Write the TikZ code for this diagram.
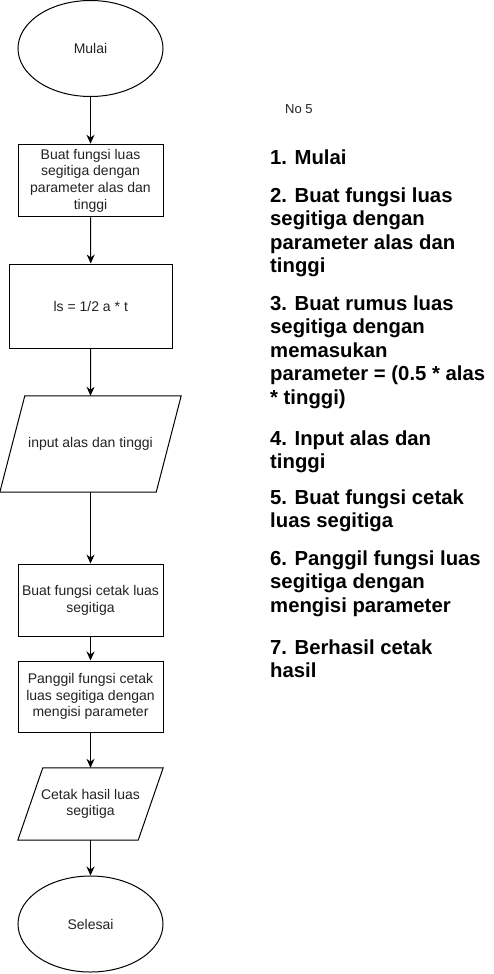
\documentclass[tikz,border=0pt]{standalone}
\usepackage{fontspec}
\setmainfont{Liberation Sans}
\usetikzlibrary{shapes.geometric,arrows.meta,calc}
\definecolor{darktext}{RGB}{34,34,34}
\begin{document}
\begin{tikzpicture}[x=1pt,y=-1pt,
  shapeline/.style={draw=black,line width=1pt},
  boxfont/.style={font=\fontsize{14}{16.7}\selectfont,text=darktext},
  terminal/.style={ellipse,shapeline,boxfont,minimum width=145pt,minimum height=96pt,inner sep=0pt},
  procbox/.style={rectangle,shapeline,boxfont,minimum width=145pt,inner sep=1pt,align=center},
  iobox/.style={rectangle,draw=none,boxfont,inner sep=0pt,align=center},
  flow/.style={line width=1pt,-{Stealth[length=9pt,width=8pt]}},
  steptext/.style={anchor=north west,align=left,inner sep=0pt,text=black,font=\fontsize{20.3}{23.5}\selectfont\bfseries}
]
\useasboundingbox (0,0) rectangle (494,974);

% flowchart
\node[terminal] (mulai) at (90.5,48.5) {Mulai};
\node[procbox,minimum height=72.5pt] (fungsi) at (90.5,180.5) {Buat fungsi luas\\segitiga dengan\\parameter alas dan\\tinggi};
\node[procbox,minimum width=162.5pt,minimum height=84pt] (rumus) at (90.75,306) {ls = 1/2 a * t};
\node[iobox,minimum width=181pt,minimum height=96pt] (input) at (90.5,444) {input alas dan tinggi};
\draw[shapeline] ($(input.north west)+(25,0)$) -- (input.north east) -- ($(input.south east)+(-25,0)$) -- (input.south west) -- cycle;
\node[procbox,minimum height=72.5pt] (cetakf) at (90.5,600.3) {Buat fungsi cetak luas\\segitiga};
\node[procbox,minimum height=71pt] (panggil) at (90.5,696.5) {Panggil fungsi cetak\\luas segitiga dengan\\mengisi parameter};
\node[iobox,minimum width=145pt,minimum height=72pt] (hasil) at (90.5,804) {Cetak hasil luas\\segitiga};
\draw[shapeline] ($(hasil.north west)+(25,0)$) -- (hasil.north east) -- ($(hasil.south east)+(-25,0)$) -- (hasil.south west) -- cycle;
\node[terminal] (selesai) at (90.5,924) {Selesai};

\draw[flow] (mulai.south) -- (fungsi.north);
\draw[flow] (fungsi.south) -- (rumus.north);
\draw[flow] (rumus.south) -- (input.north);
\draw[flow] (input.south) -- (cetakf.north);
\draw[flow] (cetakf.south) -- (panggil.north);
\draw[flow] (panggil.south) -- (hasil.north);
\draw[flow] (hasil.south) -- (selesai.north);

% description
\node[anchor=west,inner sep=0pt,text=darktext,font=\fontsize{13}{15}\selectfont] (no) at (285,109) {No 5};
\node[steptext] (s1) at (270,149.4) {1. Mulai};
\node[steptext] (s2) at (270,187.4) {2. Buat fungsi luas\\segitiga dengan\\parameter alas dan\\tinggi};
\node[steptext] (s3) at (270,295.4) {3. Buat rumus luas\\segitiga dengan\\memasukan\\parameter = (0.5 * alas\\* tinggi)};
\node[steptext] (s4) at (270,430.4) {4. Input alas dan\\tinggi};
\node[steptext] (s5) at (270,489.4) {5. Buat fungsi cetak\\luas segitiga};
\node[steptext] (s6) at (270,550.4) {6. Panggil fungsi luas\\segitiga dengan\\mengisi parameter};
\node[steptext] (s7) at (270,639.4) {7. Berhasil cetak\\hasil};
\end{tikzpicture}
\end{document}
